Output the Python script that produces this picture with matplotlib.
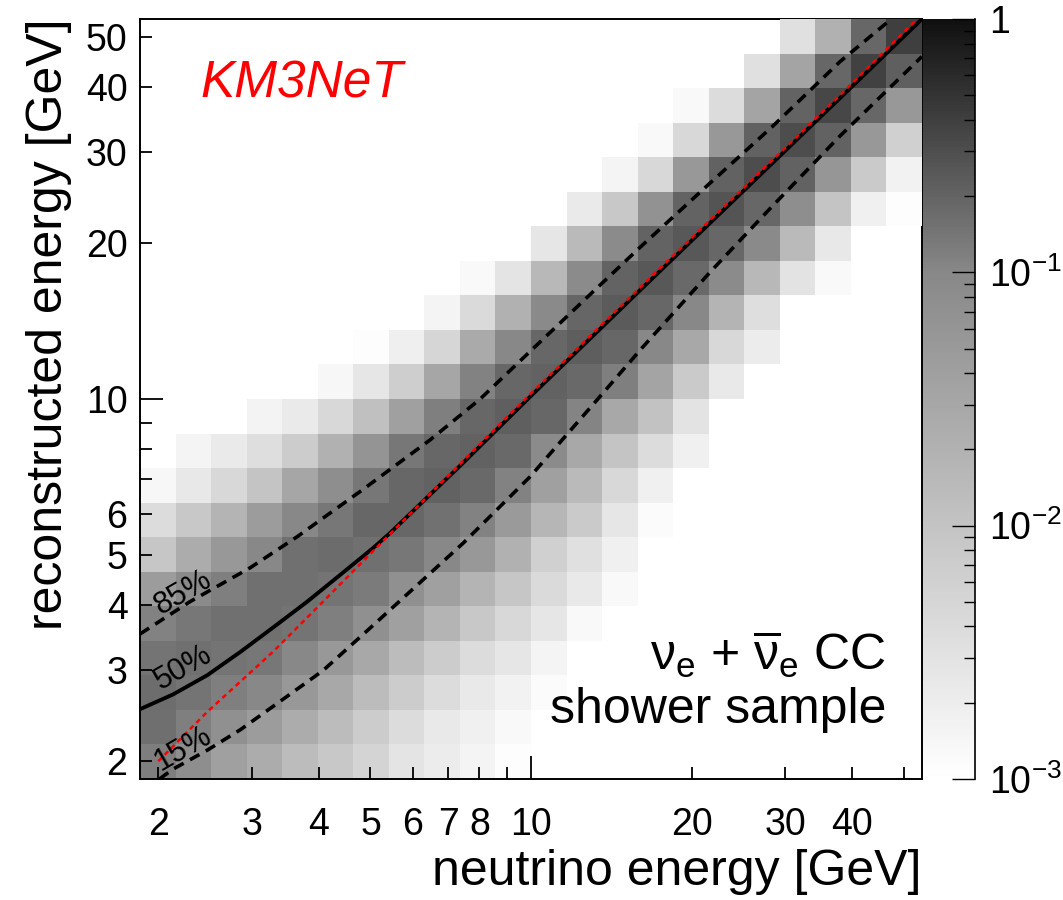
import numpy as np
import matplotlib
matplotlib.use('Agg')
import matplotlib.pyplot as plt
from matplotlib.colors import LogNorm, LinearSegmentedColormap
from matplotlib.ticker import FixedLocator, FuncFormatter, LogLocator, NullFormatter

plt.rcParams['font.family'] = ['Liberation Sans', 'DejaVu Sans']
plt.rcParams['mathtext.fontset'] = 'custom'
plt.rcParams['mathtext.rm'] = 'Liberation Sans'
plt.rcParams['mathtext.it'] = 'Liberation Sans:italic'
plt.rcParams['mathtext.bf'] = 'Liberation Sans:bold'

# 15 log bins per decade, same binning for true and reconstructed energy
energy_edges = np.logspace(4 / 15, 26 / 15, 23)

# fraction per reconstructed-energy bin (bottom -> top), one list per true-energy bin
columns = [
    [0.12, 0.16, 0.165, 0.145, 0.11, 0.046, 0.009, 0.0039, 0.0014],
    [0.08, 0.117, 0.147, 0.158, 0.136, 0.086, 0.025, 0.0084, 0.0025, 0.0015],
    [0.039, 0.073, 0.117, 0.147, 0.158, 0.117, 0.054, 0.018, 0.0045, 0.0023],
    [0.025, 0.046, 0.10, 0.136, 0.158, 0.158, 0.10, 0.046, 0.0098, 0.0036, 0.0016],
    [0.0134, 0.025, 0.054, 0.10, 0.147, 0.158, 0.158, 0.10, 0.031, 0.0072, 0.0023],
    [0.0084, 0.0134, 0.029, 0.054, 0.117, 0.147, 0.171, 0.136, 0.08, 0.021, 0.0045, 0.0014],
    [0.0053, 0.0072, 0.0134, 0.029, 0.073, 0.126, 0.158, 0.185, 0.136, 0.063, 0.0115, 0.0027, 0.0011],
    [0.0028, 0.0039, 0.0072, 0.0134, 0.039, 0.073, 0.136, 0.185, 0.185, 0.136, 0.039, 0.0067, 0.0019],
    [0.0021, 0.0024, 0.0039, 0.0072, 0.018, 0.039, 0.10, 0.152, 0.207, 0.185, 0.117, 0.031, 0.0049, 0.0015],
    [0.0015, 0.0018, 0.0024, 0.0039, 0.0084, 0.018, 0.054, 0.112, 0.178, 0.207, 0.185, 0.112, 0.027, 0.0042, 0.0013],
    [0.0011, 0.0013, 0.0017, 0.0026, 0.0045, 0.0091, 0.021, 0.05, 0.112, 0.178, 0.215, 0.185, 0.10, 0.021, 0.0028],
    [0, 0, 0.0012, 0.0015, 0.0026, 0.0042, 0.0062, 0.017, 0.039, 0.086, 0.185, 0.207, 0.185, 0.093, 0.0156, 0.0026],
    [0] * 4 + [0.0013, 0.0024, 0.0033, 0.0078, 0.0145, 0.029, 0.108, 0.178, 0.224, 0.19, 0.086, 0.0145, 0.0023],
    [0] * 5 + [0.0013, 0.0018, 0.0026, 0.0045, 0.0098, 0.029, 0.117, 0.185, 0.233, 0.20, 0.086, 0.0084, 0.0015],
    [0] * 7 + [0.0012, 0.0018, 0.0039, 0.0106, 0.034, 0.10, 0.185, 0.25, 0.20, 0.068, 0.0045, 0.0013],
    [0] * 9 + [0.0018, 0.003, 0.0078, 0.029, 0.10, 0.178, 0.25, 0.20, 0.054, 0.0045, 0.0013],
    [0] * 11 + [0.0024, 0.0045, 0.018, 0.086, 0.185, 0.27, 0.207, 0.054, 0.0039],
    [0] * 12 + [0.0021, 0.0036, 0.0156, 0.093, 0.185, 0.31, 0.207, 0.034, 0.0033],
    [0] * 14 + [0.003, 0.0145, 0.08, 0.207, 0.31, 0.20, 0.034, 0.0033],
    [0] * 14 + [0.0013, 0.0025, 0.0098, 0.058, 0.207, 0.34, 0.185, 0.021],
    [0] * 16 + [0.0018, 0.0078, 0.054, 0.185, 0.38, 0.185],
    [0] * 16 + [0.0011, 0.0017, 0.0062, 0.054, 0.215, 0.40],
]

# quantiles of reconstructed energy vs true energy
q85_true = [1.848, 2.29, 2.97, 3.64, 4.84, 6.47, 8.03, 9.67, 12.9, 16.0, 21.4, 28.4, 38.0, 47.4]
q85_reco = [3.52, 4.06, 4.72, 5.42, 6.69, 8.34, 10.0, 12.0, 15.9, 19.6, 25.8, 33.6, 44.8, 54.1]
q50_true = [1.848, 2.13, 2.47, 2.85, 3.28, 3.80, 4.39, 5.06, 5.47, 7.46, 9.96, 16.1, 38.0, 54.1]
q50_reco = [2.52, 2.69, 2.93, 3.25, 3.62, 4.06, 4.58, 5.16, 5.54, 7.53, 10.1, 16.3, 38.1, 54.1]
q15_true = [2.01, 2.13, 2.47, 2.85, 3.28, 4.07, 5.06, 7.46, 9.96, 13.3, 16.1, 21.7, 28.4, 38.0, 54.1]
q15_reco = [1.848, 1.93, 2.10, 2.30, 2.55, 2.99, 3.66, 5.27, 7.08, 9.96, 12.5, 17.6, 23.6, 32.2, 45.8]
red_true = [2.0, 2.47, 3.28, 4.07, 5.47, 7.46, 10.0, 16.1, 38.0, 53.0]
red_reco = [2.0, 2.49, 3.25, 4.06, 5.52, 7.6, 10.25, 16.5, 38.6, 54.1]

x_labeled = [2, 3, 4, 5, 6, 7, 8, 10, 20, 30, 40]
y_labeled = [2, 3, 4, 5, 6, 10, 20, 30, 40, 50]
minor_ticks = [2, 3, 4, 5, 6, 7, 8, 9, 20, 30, 40, 50]
cbar_ticks = [1e-3, 1e-2, 1e-1, 1]
cbar_labels = [r'$10^{-3}$', r'$10^{-2}$', r'$10^{-1}$', '1']

prob = np.zeros((22, 22))
for i, col in enumerate(columns):
    prob[:len(col), i] = col
prob = np.ma.masked_less_equal(prob, 0)

grey = LinearSegmentedColormap.from_list(
    'root_grey', [(0.0, (1, 1, 1)), (2 / 3, (0.533, 0.533, 0.533)), (1.0, (0.063, 0.063, 0.063))])

W, H = 1063, 900
fig = plt.figure(figsize=(W / 100, H / 100), dpi=100)
ax = fig.add_axes([140 / W, 121 / H, 782 / W, 760 / H])

mesh = ax.pcolormesh(energy_edges, energy_edges, prob, cmap=grey,
                     norm=LogNorm(1e-3, 1), shading='flat', antialiased=False, zorder=1)

ax.plot(q85_true, q85_reco, color='black', lw=2.6, dashes=(3.0, 2.0), zorder=3)
ax.plot(q15_true, q15_reco, color='black', lw=2.6, dashes=(3.0, 2.0), zorder=3)
ax.plot(q50_true, q50_reco, color='black', lw=2.8, zorder=3)
ax.plot(red_true, red_reco, color='red', lw=1.8, dashes=(2.0, 1.6), zorder=4)

ax.set_xscale('log')
ax.set_yscale('log')
ax.set_xlim(energy_edges[0], energy_edges[-1])
ax.set_ylim(energy_edges[0], energy_edges[-1])

for axis, labeled in ((ax.xaxis, x_labeled), (ax.yaxis, y_labeled)):
    axis.set_major_locator(FixedLocator([10]))
    axis.set_minor_locator(FixedLocator(minor_ticks))
    fmt = FuncFormatter(lambda v, p, lab=labeled: f'{v:g}' if round(v) in lab else '')
    axis.set_major_formatter(fmt)
    axis.set_minor_formatter(fmt)

ax.tick_params(which='both', direction='in', top=False, right=False,
               labelsize=27, width=1.3)
ax.tick_params(which='major', length=16.5)
ax.tick_params(which='minor', length=8.5)
ax.tick_params(axis='x', which='both', pad=20)
ax.tick_params(axis='y', which='both', pad=9)
for side in ('left', 'bottom', 'top', 'right'):
    ax.spines[side].set_linewidth(1.4)
ax.spines['top'].set_zorder(0.5)
ax.spines['right'].set_zorder(0.5)

# curve labels
for txt, yv in (('85%', 4.23), ('50%', 3.03), ('15%', 2.11)):
    ax.text(2.23, yv, txt, fontsize=22, rotation=30, ha='center', va='center', zorder=5)

fig.text(200 / W, 1 - 97 / H, 'KM3NeT', color='red', fontsize=37, style='italic',
         ha='left', va='baseline')
fig.text(886 / W, 1 - 670 / H, r'$\mathrm{\nu_{e}}$ + $\mathrm{\overline{\nu}_{e}}$ CC', fontsize=36,
         ha='right', va='baseline')
fig.text(886 / W, 1 - 723 / H, 'shower sample', fontsize=36, ha='right', va='baseline')

fig.text(922 / W, 1 - 885 / H, 'neutrino energy [GeV]', fontsize=36, ha='right', va='baseline')
fig.text(49 / W, 1 - 18 / H, 'reconstructed energy [GeV]', fontsize=36, rotation=90,
         ha='center', va='top')

# colour scale
cax = fig.add_axes([923 / W, 121 / H, 52 / W, 760 / H])
cb = fig.colorbar(mesh, cax=cax)
cb.outline.set_visible(False)
cb.set_ticks(cbar_ticks, labels=cbar_labels)
cax.yaxis.set_minor_locator(LogLocator(subs=np.arange(2, 10)))
cax.yaxis.set_minor_formatter(NullFormatter())
cax.yaxis.set_ticks_position('right')
cax.tick_params(which='major', direction='in', length=16.5, width=1.0, labelsize=27, pad=10)
cax.tick_params(which='minor', direction='in', length=8, width=1.0)
cax.axvline(1.0, color='black', lw=1.2, clip_on=False)

fig.savefig('out.png', dpi=100)
